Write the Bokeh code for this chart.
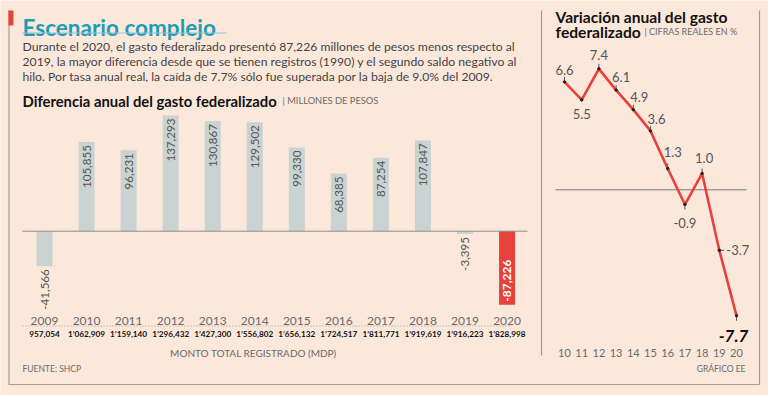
import math
from bokeh.plotting import figure
from bokeh.models import Range1d, ColumnDataSource
from bokeh.core.properties import value
from bokeh.embed import file_html
from bokeh.resources import INLINE

# ---------------- data ----------------
years = [2009, 2010, 2011, 2012, 2013, 2014, 2015, 2016, 2017, 2018, 2019, 2020]
diff = [-41566, 105855, 96231, 137293, 130867, 129502, 99330, 68385, 87254, 107847, -3395, -87226]
totals = ["957,054", "1’062,909", "1’159,140", "1’296,432", "1’427,300", "1’556,802",
          "1’656,132", "1’724,517", "1’811,771", "1’919,619", "1’916,223", "1’828,998"]

var_years = [10, 11, 12, 13, 14, 15, 16, 17, 18, 19, 20]
var_vals = [6.6, 5.5, 7.4, 6.1, 4.9, 3.6, 1.3, -0.9, 1.0, -3.7, -7.7]
var_tick_labels = ["10", "11", "12", "13", "14", "15", "16", "17", "18", "19", "20"]

title = "Escenario complejo"
paragraph = [
    "Durante el 2020, el gasto federalizado presentó 87,226 millones de pesos menos respecto al",
    "2019, la mayor diferencia desde que se tienen registros (1990) y el segundo saldo negativo al",
    "hilo. Por tasa anual real, la caída de 7.7% sólo fue superada por la baja de 9.0% del 2009.",
]

# ---------------- styles / layout ----------------
BG = "#fbe8da"
TEAL = "#1e9bb6"
RED = "#e8403b"
BAR = "#c9d3d2"
GRAY = "#444444"
LGRAY = "#6a6a6a"
FRAME = "#aa9a8e"
FONT = value("Lato")

W, H = 768, 395

# bar chart pixel placement
BX0, BDX = 44.0, 42.05          # centre of first bar, spacing
BZERO, BK = 230.7, 8.42e-4      # zero line (px from top), px per unit
# line chart pixel placement
LX0, LDX = 564.0, 17.2
LZERO, LK = 189.3, 16.35

p = figure(width=W, height=H, x_range=Range1d(0, W), y_range=Range1d(H, 0),
           output_backend="svg", toolbar_location=None, min_border=0,
           x_axis_location=None, y_axis_location=None,
           background_fill_color=BG, border_fill_color=BG, outline_line_color=None)
p.grid.visible = False

bx_start = years[0] - BX0 / BDX
lx_start = var_years[0] - LX0 / LDX
p.extra_x_ranges = {
    "bars": Range1d(bx_start, bx_start + W / BDX),
    "line": Range1d(lx_start, lx_start + W / LDX),
}
p.extra_y_ranges = {
    "bars": Range1d(-(H - BZERO) / BK, BZERO / BK),
    "line": Range1d(-(H - LZERO) / LK, LZERO / LK),
}

# ---------------- frame ----------------
p.segment(x0=[8.5, 8, 759, 541], y0=[10, 384, 10, 10], x1=[8.5, 759, 759, 541], y1=[384, 384, 384, 355],
          line_color=FRAME, line_width=1.2)
p.quad(left=[8], right=[13], top=[10], bottom=[25], fill_color=RED, line_color=None)

# ---------------- header texts ----------------
p.text(x=[22], y=[27], text=[title], text_font=FONT, text_font_style="bold",
       text_font_size="22.5px", text_color=TEAL, text_baseline="alphabetic")
p.segment(x0=[22], y0=[32.5], x1=[226], y1=[32.5], line_color="#8cc2d0", line_width=1)
p.text(x=[22] * 3, y=[46, 61, 76], text=paragraph, text_font=FONT, text_font_size="12.2px",
       text_color=GRAY, text_baseline="middle")
p.text(x=[22], y=[100], text=["Diferencia anual del gasto federalizado"], text_font=FONT,
       text_font_style="bold", text_font_size="14.8px", text_color="#111111", text_baseline="middle")
p.text(x=[282], y=[100], text=["| MILLONES DE PESOS"], text_font=FONT, text_font_size="9.3px",
       text_color=LGRAY, text_baseline="middle")

# ---------------- bar chart ----------------
bar_colors = [RED if y == 2020 else BAR for y in years]
bsrc = ColumnDataSource(dict(x=years, top=diff, color=bar_colors, total=totals,
                             year=[str(y) for y in years]))
p.vbar(x="x", top="top", bottom=0, width=16 / BDX, fill_color="color", line_color=None,
       source=bsrc, x_range_name="bars", y_range_name="bars")
p.segment(x0=[22], y0=[BZERO], x1=[527], y1=[BZERO], line_color="#8c8c8c", line_width=1)

normal = [i for i, y in enumerate(years) if y != 2020]
nsrc = ColumnDataSource(dict(x=[years[i] for i in normal], y=[diff[i] for i in normal],
                             t=[f"{diff[i]:,}" for i in normal]))
p.text(x="x", y="y", text="t", source=nsrc, angle=math.pi / 2, text_align="right",
       text_baseline="middle", y_offset=3, text_font=FONT, text_font_size="11.6px",
       text_color="#555555", x_range_name="bars", y_range_name="bars")
hl = [i for i, y in enumerate(years) if y == 2020]
hsrc = ColumnDataSource(dict(x=[years[i] for i in hl], y=[diff[i] for i in hl],
                             t=[f"{diff[i]:,}" for i in hl]))
p.text(x="x", y="y", text="t", source=hsrc, angle=math.pi / 2, text_align="left",
       text_baseline="middle", y_offset=-3, text_font=FONT, text_font_style="bold",
       text_font_size="12px", text_color="white", x_range_name="bars", y_range_name="bars")

p.text(x="x", y=320, text="year", source=bsrc, text_align="center", text_baseline="middle",
       text_font=FONT, text_font_size="12px", text_color=LGRAY, x_range_name="bars")
p.segment(x0=[22], y0=[325.5], x1=[510], y1=[325.5], line_color="#9a9a9a", line_width=1,
          line_dash="1 2")
p.text(x="x", y=333.5, text="total", source=bsrc, text_align="center", text_baseline="middle",
       text_font=FONT, text_font_style="bold", text_font_size="8.2px",
       text_color="#111111", x_range_name="bars")
p.text(x=[253], y=[352], text=["MONTO TOTAL REGISTRADO (MDP)"], text_align="center",
       text_baseline="middle", text_font=FONT, text_font_size="10px", text_color=LGRAY)
p.text(x=[22], y=[368], text=["FUENTE: SHCP"], text_baseline="middle", text_font=FONT,
       text_font_size="8.5px", text_color=LGRAY)

# ---------------- line chart ----------------
p.text(x=[555], y=[16], text=["Variación anual del gasto"], text_font=FONT, text_font_style="bold",
       text_font_size="15.6px", text_color="#111111", text_baseline="middle")
p.text(x=[555], y=[31], text=["federalizado"], text_font=FONT, text_font_style="bold",
       text_font_size="15.6px", text_color="#111111", text_baseline="middle")
p.text(x=[644], y=[31], text=["| CIFRAS REALES EN %"], text_font=FONT, text_font_size="9px",
       text_color=LGRAY, text_baseline="middle")

p.segment(x0=[555], y0=[LZERO], x1=[746], y1=[LZERO], line_color="#7a7a7a", line_width=1)

# label placement (screen px offsets from each point) and tick direction
lab_dx = [0, 0, 0, 5, 6, 6, 5, 0, 2, 7, -3]
lab_dy = [-12, 14, -14, -13, -13, -12, -17, 18, -15, 0, 20]
lab_align = ["center"] * 9 + ["left", "center"]
tick_dir = [(0, 1), (0, 0), (0, 1), (0, 1), (0, 1), (0, 1), (0, 1), (0, -1), (0, 1), (1, 0), (0, -1)]
TL = 5.0

tx1 = [x + d[0] * TL / LDX for x, d in zip(var_years, tick_dir)]
ty1 = [v + d[1] * TL / LK for v, d in zip(var_vals, tick_dir)]
p.segment(x0=var_years, y0=var_vals, x1=tx1, y1=ty1, line_color="#555555", line_width=1,
          x_range_name="line", y_range_name="line")
p.line(var_years, var_vals, line_color=RED, line_width=2.6, x_range_name="line",
       y_range_name="line")
p.scatter(var_years, var_vals, size=2.5, color="#222222", x_range_name="line",
          y_range_name="line")

n = len(var_vals) - 1
lsrc = ColumnDataSource(dict(x=var_years[:n], y=var_vals[:n],
                             t=[f"{v:.1f}" for v in var_vals[:n]], dx=lab_dx[:n], dy=lab_dy[:n],
                             al=lab_align[:n]))
p.text(x="x", y="y", text="t", source=lsrc, x_offset="dx", y_offset="dy", text_align="al",
       text_baseline="middle", text_font=FONT, text_font_size="13px", text_color="#555555",
       x_range_name="line", y_range_name="line")
p.text(x=[var_years[n]], y=[var_vals[n]], text=[f"{var_vals[n]:.1f}"], x_offset=lab_dx[n],
       y_offset=lab_dy[n], text_align="center", text_baseline="middle", text_font=FONT,
       text_font_style="bold italic", text_font_size="17px", text_color="#111111",
       x_range_name="line", y_range_name="line")

p.text(x=var_years, y=[352] * len(var_years), text=var_tick_labels, text_align="center",
       text_baseline="middle", text_font=FONT, text_font_size="11px", text_color=LGRAY,
       x_range_name="line")
p.text(x=[745], y=[368], text=["GRÁFICO EE"], text_align="right", text_baseline="middle",
       text_font=FONT, text_font_size="8.5px", text_color=LGRAY)

open("out.html", "w").write(file_html(p, INLINE))
